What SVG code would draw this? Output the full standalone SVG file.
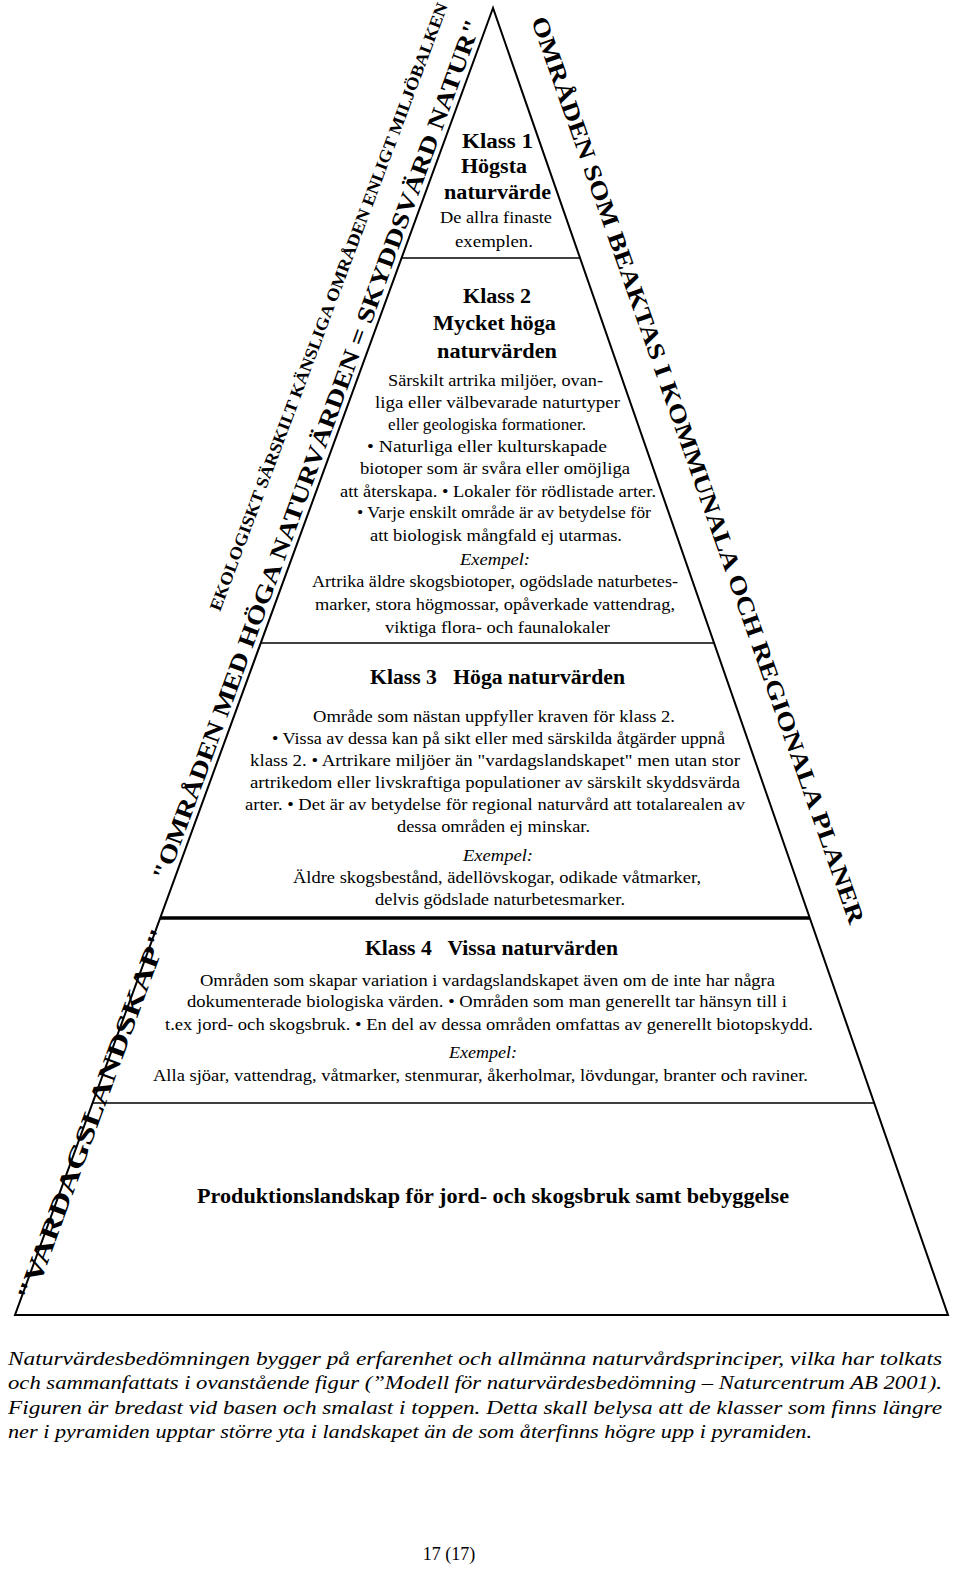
<svg xmlns="http://www.w3.org/2000/svg" width="960" height="1584" viewBox="0 0 960 1584">
<style>
.t{font-family:"Liberation Serif",serif;font-size:16.5px;fill:#000}
.b{font-family:"Liberation Serif",serif;font-size:20px;font-weight:bold;fill:#000}
.i{font-family:"Liberation Serif",serif;font-size:16.5px;font-style:italic;fill:#000}
.r{font-family:"Liberation Serif",serif;font-weight:bold;fill:#000}
.c{font-family:"Liberation Serif",serif;font-size:19px;font-style:italic;fill:#000}
.ln{stroke:#000;fill:none}
</style>
<rect width="960" height="1584" fill="#fff"/>
<g id="pyramid">
<polygon class="ln" stroke-width="2" points="493,8 15,1315 948,1315"/>
<line class="ln" stroke-width="1.5" x1="401" y1="258" x2="580" y2="258"/>
<line class="ln" stroke-width="1.5" x1="261" y1="643" x2="714" y2="643"/>
<line class="ln" stroke-width="3.5" x1="160" y1="918" x2="810" y2="918"/>
<line class="ln" stroke-width="1.5" x1="92" y1="1103" x2="874" y2="1103"/>
</g>
<g id="side-labels">
<text class="r" font-size="17" transform="translate(220,612) rotate(-69.4)" textLength="648" lengthAdjust="spacingAndGlyphs">EKOLOGISKT SÄRSKILT KÄNSLIGA OMRÅDEN ENLIGT MILJÖBALKEN</text>
<text class="r" font-size="24" transform="translate(167,882) rotate(-69.9)" textLength="915" lengthAdjust="spacingAndGlyphs">"OMRÅDEN MED HÖGA NATURVÄRDEN = SKYDDSVÄRD NATUR"</text>
<text class="r" font-size="26" transform="translate(33,1303) rotate(-69.9)" textLength="395" lengthAdjust="spacingAndGlyphs">"VARDAGSLANDSKAP"</text>
<text class="r" font-size="24" transform="translate(531,20) rotate(70.6)" textLength="960" lengthAdjust="spacingAndGlyphs">OMRÅDEN SOM BEAKTAS I KOMMUNALA OCH REGIONALA PLANER</text>
</g>
<g id="klass1">
<text class="b" x="462" y="148" textLength="71" lengthAdjust="spacingAndGlyphs">Klass 1</text>
<text class="b" x="461" y="173" textLength="66" lengthAdjust="spacingAndGlyphs">Högsta</text>
<text class="b" x="444" y="199" textLength="107" lengthAdjust="spacingAndGlyphs">naturvärde</text>
<text class="t" x="440" y="223" textLength="112" lengthAdjust="spacingAndGlyphs">De allra finaste</text>
<text class="t" x="455" y="247" textLength="78" lengthAdjust="spacingAndGlyphs">exemplen.</text>
</g>
<g id="klass2">
<text class="b" x="463" y="303" textLength="68" lengthAdjust="spacingAndGlyphs">Klass 2</text>
<text class="b" x="433" y="330" textLength="123" lengthAdjust="spacingAndGlyphs">Mycket höga</text>
<text class="b" x="437" y="358" textLength="120" lengthAdjust="spacingAndGlyphs">naturvärden</text>
<text class="t" x="388" y="386" textLength="215" lengthAdjust="spacingAndGlyphs">Särskilt artrika miljöer, ovan-</text>
<text class="t" x="375" y="408" textLength="245" lengthAdjust="spacingAndGlyphs">liga eller välbevarade naturtyper</text>
<text class="t" x="388" y="430" textLength="198" lengthAdjust="spacingAndGlyphs">eller geologiska formationer.</text>
<text class="t" x="367" y="452" textLength="240" lengthAdjust="spacingAndGlyphs">• Naturliga eller kulturskapade</text>
<text class="t" x="360" y="474" textLength="270" lengthAdjust="spacingAndGlyphs">biotoper som är svåra eller omöjliga</text>
<text class="t" x="340" y="497" textLength="316" lengthAdjust="spacingAndGlyphs">att återskapa. • Lokaler för rödlistade arter.</text>
<text class="t" x="357" y="518" textLength="294" lengthAdjust="spacingAndGlyphs">• Varje enskilt område är av betydelse för</text>
<text class="t" x="370" y="541" textLength="252" lengthAdjust="spacingAndGlyphs">att biologisk mångfald ej utarmas.</text>
<text class="i" x="460" y="565" textLength="70" lengthAdjust="spacingAndGlyphs">Exempel:</text>
<text class="t" x="312" y="587" textLength="366" lengthAdjust="spacingAndGlyphs">Artrika äldre skogsbiotoper, ogödslade naturbetes-</text>
<text class="t" x="315" y="610" textLength="360" lengthAdjust="spacingAndGlyphs">marker, stora högmossar, opåverkade vattendrag,</text>
<text class="t" x="385" y="633" textLength="225" lengthAdjust="spacingAndGlyphs">viktiga flora- och faunalokaler</text>
</g>
<g id="klass3">
<text class="b" x="370" y="684" textLength="255" lengthAdjust="spacingAndGlyphs" xml:space="preserve">Klass 3   Höga naturvärden</text>
<text class="t" x="313" y="722" textLength="362" lengthAdjust="spacingAndGlyphs">Område som nästan uppfyller kraven för klass 2.</text>
<text class="t" x="272" y="744" textLength="453" lengthAdjust="spacingAndGlyphs">• Vissa av dessa kan på sikt eller med särskilda åtgärder uppnå</text>
<text class="t" x="250" y="766" textLength="490" lengthAdjust="spacingAndGlyphs">klass 2. • Artrikare miljöer än "vardagslandskapet" men utan stor</text>
<text class="t" x="250" y="788" textLength="490" lengthAdjust="spacingAndGlyphs">artrikedom eller livskraftiga populationer  av särskilt skyddsvärda</text>
<text class="t" x="245" y="810" textLength="500" lengthAdjust="spacingAndGlyphs">arter. • Det är av betydelse för regional naturvård att totalarealen av</text>
<text class="t" x="397" y="832" textLength="193" lengthAdjust="spacingAndGlyphs">dessa områden ej minskar.</text>
<text class="i" x="463" y="861" textLength="70" lengthAdjust="spacingAndGlyphs">Exempel:</text>
<text class="t" x="293" y="883" textLength="408" lengthAdjust="spacingAndGlyphs">Äldre skogsbestånd, ädellövskogar, odikade våtmarker,</text>
<text class="t" x="375" y="905" textLength="250" lengthAdjust="spacingAndGlyphs">delvis gödslade naturbetesmarker.</text>
</g>
<g id="klass4">
<text class="b" x="365" y="955" textLength="253" lengthAdjust="spacingAndGlyphs" xml:space="preserve">Klass 4   Vissa naturvärden</text>
<text class="t" x="200" y="986" textLength="575" lengthAdjust="spacingAndGlyphs">Områden som skapar variation i vardagslandskapet även om de inte har några</text>
<text class="t" x="187" y="1007" textLength="600" lengthAdjust="spacingAndGlyphs">dokumenterade biologiska värden. • Områden som man generellt tar hänsyn till i</text>
<text class="t" x="165" y="1030" textLength="648" lengthAdjust="spacingAndGlyphs">t.ex jord- och skogsbruk. • En del av dessa områden omfattas av generellt biotopskydd.</text>
<text class="i" x="449" y="1058" textLength="68" lengthAdjust="spacingAndGlyphs">Exempel:</text>
<text class="t" x="153" y="1081" textLength="655" lengthAdjust="spacingAndGlyphs">Alla sjöar, vattendrag, våtmarker, stenmurar, åkerholmar, lövdungar, branter och raviner.</text>
</g>
<g id="produktion">
<text class="b" x="197" y="1203" textLength="592" lengthAdjust="spacingAndGlyphs">Produktionslandskap för jord- och skogsbruk samt bebyggelse</text>
</g>
<g id="caption">
<text class="c" x="8" y="1365" textLength="934" lengthAdjust="spacingAndGlyphs">Naturvärdesbedömningen bygger på erfarenhet och allmänna naturvårdsprinciper, vilka har tolkats</text>
<text class="c" x="8" y="1389" textLength="934" lengthAdjust="spacingAndGlyphs">och sammanfattats i ovanstående figur (”Modell för naturvärdesbedömning – Naturcentrum AB 2001).</text>
<text class="c" x="8" y="1414" textLength="934" lengthAdjust="spacingAndGlyphs">Figuren är bredast vid basen och smalast i toppen. Detta skall belysa att de klasser som finns längre</text>
<text class="c" x="8" y="1438" textLength="804" lengthAdjust="spacingAndGlyphs">ner i pyramiden upptar större yta i landskapet än de som återfinns högre upp i pyramiden.</text>
<text x="449" y="1560" text-anchor="middle" font-family="Liberation Serif,serif" font-size="18">17 (17)</text>
</g>
</svg>
